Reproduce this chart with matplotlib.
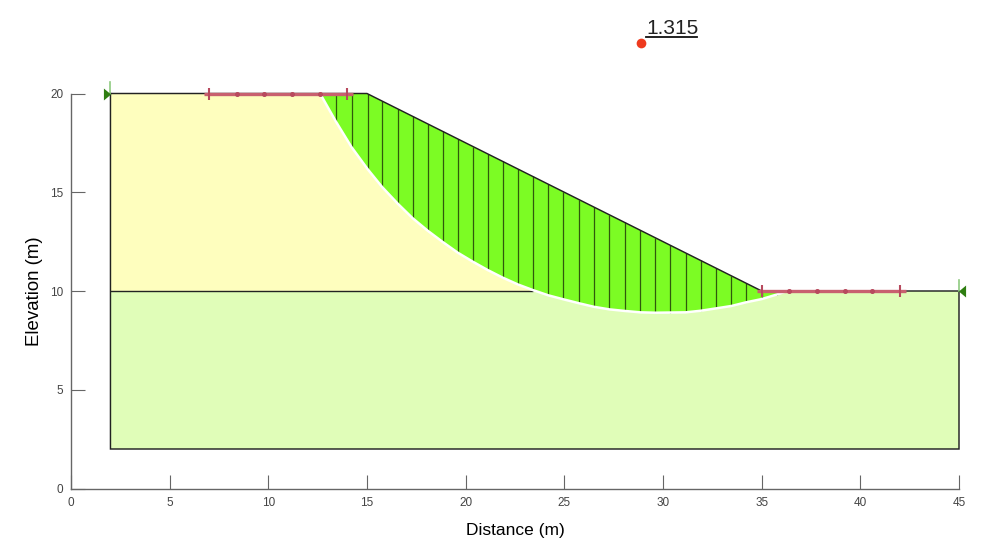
import matplotlib
matplotlib.use("Agg")
import matplotlib.pyplot as plt
import numpy as np

plt.rcParams["font.family"] = ["Liberation Sans", "DejaVu Sans"]

# ground profile and soil layers (m)
ground_x = [2, 15, 35, 45]
ground_y = [20, 20, 10, 10]
model_bottom = 2
layer_y = 10

# slice base points along the slip surface
slice_x = [13.43, 14.22, 15.04, 15.78, 16.57, 17.32, 18.08, 18.84, 19.60, 20.37,
           21.12, 21.87, 22.65, 23.40, 24.19, 24.95, 25.74, 26.50, 27.28, 28.06,
           28.85, 29.60, 30.38, 31.15, 31.91, 32.69, 33.46, 34.22, 35.00, 35.76]
slice_base = [18.57, 17.28, 16.16, 15.25, 14.41, 13.68, 13.05, 12.48, 11.94, 11.48,
              11.06, 10.68, 10.33, 10.05, 9.78, 9.58, 9.38, 9.20, 9.07, 8.99,
              8.92, 8.90, 8.91, 8.92, 9.00, 9.12, 9.24, 9.43, 9.59, 9.82]
slip_start = (12.62, 20)
slip_end = (36.3, 10)

# surcharge ranges
load_ranges = [(7, 14, 20), (35, 42, 10)]
load_dots = [1.4, 2.8, 4.2, 5.6]

fos_x, fos_y = 28.89, 22.56
fos_label = "1.315"

fig = plt.figure(figsize=(9.91, 5.46), dpi=100)
ax = fig.add_axes([71 / 991, 1 - 488.5 / 546, 888 / 991, 395 / 546])
ax.set_xlim(0, 45)
ax.set_ylim(0, 20)

for s in ["top", "right"]:
    ax.spines[s].set_visible(False)
for s in ["left", "bottom"]:
    ax.spines[s].set_color("#666666")
    ax.spines[s].set_linewidth(1.0)

ax.set_xticks(range(0, 46, 5))
ax.set_yticks(range(0, 21, 5))
ax.tick_params(direction="in", length=10, width=0.8, color="#666666",
               labelcolor="#444444", labelsize=8.5, pad=6)
ax.tick_params(axis="y", pad=5.5)
ax.set_xlabel("Distance (m)", fontsize=12.5, labelpad=10.5)
ax.set_ylabel("Elevation (m)", fontsize=13.4, labelpad=5)

# soil regions
ax.fill([2, 2, 15, 35, 45, 45], [2, 20, 20, 10, 10, 2], color="#E0FDB8", lw=0, zorder=1)
ax.fill([2, 2, 15, 35], [layer_y, 20, 20, layer_y], color="#FEFEBE", lw=0, zorder=1.1)

# sliding mass
surf_x = [slip_start[0]] + slice_x + [slip_end[0]]
surf_y = [slip_start[1]] + slice_base + [slip_end[1]]
ax.fill(surf_x + [35, 15], surf_y + [10, 20], color="#7CFC24", lw=0, zorder=2)

slice_top = np.interp(slice_x, ground_x, ground_y)
ax.vlines(slice_x, slice_base, slice_top, color="#2F5A0C", lw=0.9, zorder=3)

# layer boundary stops at the slip surface
ax.plot([2, 23.4], [layer_y, layer_y], color="#222222", lw=1.0, zorder=2.5, solid_capstyle="butt")
ax.plot(surf_x, surf_y, color="white", lw=1.8, zorder=4)

# model outline
ax.plot(ground_x + [45, 2, 2], ground_y + [model_bottom, model_bottom, 20],
        color="#222222", lw=1.05, zorder=5, clip_on=False, solid_joinstyle="miter")

# surcharge markers
for x0, x1, y in load_ranges:
    ax.plot([x0 - 0.25, x1 + 0.3], [y, y], color="#C8606F", lw=2.4, zorder=6,
            clip_on=False, solid_capstyle="butt")
    ax.plot([x0, x1], [y, y], ls="none", marker="|", ms=9, mew=1.5, color="#B84A5E",
            zorder=7, clip_on=False)
    ax.plot([x0 + d for d in load_dots], [y] * len(load_dots), ls="none", marker="o", ms=2.6,
            color="#B84A5E", zorder=7, clip_on=False)

# boundary pins
pin_right = [(-0.6, -1), (0.6, 0), (-0.6, 1)]
pin_left = [(0.6, -1), (-0.6, 0), (0.6, 1)]
ax.plot([2, 2], [20, 20.6], color="#8FCB80", lw=1.2, zorder=6, clip_on=False)
ax.plot([45, 45], [10, 10.55], color="#8FCB80", lw=1.2, zorder=6, clip_on=False)
ax.plot([1.83], [20], ls="none", marker=pin_right, ms=8.6, mew=0, color="#2E7D10", zorder=7, clip_on=False)
ax.plot([45.17], [10], ls="none", marker=pin_left, ms=8.6, mew=0, color="#2E7D10", zorder=7, clip_on=False)

# factor of safety
ax.plot([fos_x], [fos_y], ls="none", marker="o", ms=7, mew=0, color="#EE3A1E", clip_on=False, zorder=8)
ax.text(29.14, 23.01, fos_label, fontsize=15, color="#222222", ha="left", va="baseline", clip_on=False)
ax.plot([29.14, 31.73], [22.84, 22.84], color="#111111", lw=1.3, clip_on=False, zorder=8)

fig.savefig("out.png", dpi=100)
